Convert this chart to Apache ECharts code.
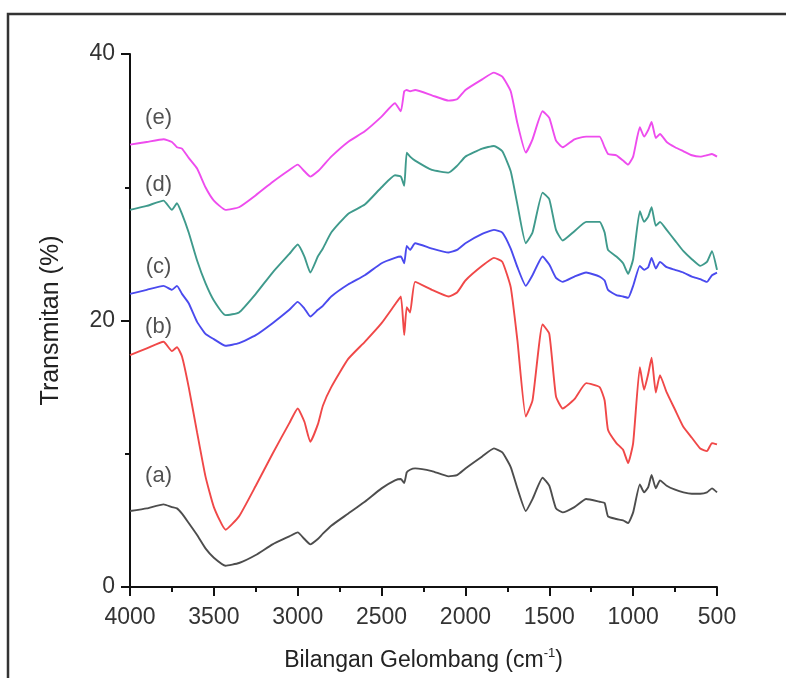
<!DOCTYPE html>
<html>
<head>
<meta charset="utf-8">
<script src="https://cdn.jsdelivr.net/npm/echarts@6/dist/echarts.min.js"></script>
<style>
    html, body { margin: 0; padding: 0; background: #fff; }
    #chart { width: 786px; height: 678px; }
</style>
</head>
<body>
<div id="chart"></div>
<script>
// wavenumber grid (cm-1), shared by all five spectra
var wavenumber = [4000, 3900, 3800, 3750, 3720, 3690, 3650, 3600, 3550, 3500, 3430, 3350, 3250, 3150, 3050,
    3000, 2960, 2925, 2880, 2850, 2800, 2700, 2600, 2500, 2420, 2385, 2365, 2350, 2330, 2300, 2200, 2100,
    2050, 2000, 1900, 1830, 1780, 1730, 1690, 1640, 1600, 1540, 1500, 1460, 1420, 1350, 1280, 1200, 1170,
    1150, 1100, 1060, 1030, 1000, 960, 935, 910, 890, 865, 840, 800, 750, 700, 650, 600, 560, 530, 500];

var sampleA = [5.7, 5.9, 6.2, 6.0, 5.9, 5.5, 4.8, 3.9, 2.9, 2.2, 1.6, 1.8, 2.4, 3.2, 3.8,
    4.1, 3.6, 3.2, 3.6, 4.0, 4.6, 5.5, 6.4, 7.4, 8.0, 8.1, 7.8, 8.6, 8.8, 8.9, 8.7, 8.3,
    8.4, 8.9, 9.8, 10.4, 10.1, 9.0, 7.4, 5.7, 6.6, 8.2, 7.6, 5.9, 5.6, 6.0, 6.6, 6.4, 6.3,
    5.3, 5.1, 5.0, 4.8, 5.6, 7.7, 7.1, 7.5, 8.4, 7.4, 8.0, 7.6, 7.3, 7.1, 7.0, 7.0, 7.1, 7.4, 7.1];

var sampleB = [17.4, 17.9, 18.4, 17.7, 18.0, 17.3, 15.0, 11.6, 8.3, 6.0, 4.3, 5.3, 7.6, 10.0, 12.3,
    13.4, 12.4, 10.9, 12.2, 13.6, 15.0, 17.1, 18.4, 19.8, 21.2, 21.8, 18.9, 21.0, 20.6, 22.9, 22.3, 21.8,
    22.1, 23.0, 24.1, 24.7, 24.4, 22.5, 18.5, 12.8, 14.0, 19.7, 19.0, 14.3, 13.4, 14.1, 15.3, 15.0, 14.0,
    11.8, 10.8, 10.3, 9.3, 10.8, 16.5, 14.8, 16.0, 17.2, 14.6, 15.9, 14.6, 13.3, 12.0, 11.2, 10.4, 10.2, 10.8, 10.7];

var sampleC = [22.0, 22.3, 22.6, 22.3, 22.6, 22.0, 21.3, 19.9, 19.0, 18.6, 18.1, 18.3, 18.9, 19.8, 20.8,
    21.4, 20.9, 20.3, 20.8, 21.1, 21.8, 22.7, 23.4, 24.3, 24.7, 24.8, 24.3, 25.6, 25.3, 25.8, 25.4, 25.1,
    25.3, 25.8, 26.5, 26.8, 26.6, 25.4, 24.0, 22.6, 23.4, 24.8, 24.2, 23.2, 22.9, 23.3, 23.6, 23.3, 23.0,
    22.3, 21.9, 21.8, 21.7, 22.6, 24.1, 23.8, 24.0, 24.7, 23.9, 24.4, 24.0, 23.8, 23.6, 23.3, 23.1, 22.9, 23.4, 23.6];

var sampleD = [28.3, 28.6, 29.0, 28.3, 28.8, 28.0, 26.6, 24.5, 22.8, 21.5, 20.4, 20.6, 22.0, 23.6, 25.0,
    25.7, 24.8, 23.6, 24.8, 25.4, 26.6, 28.0, 28.7, 30.0, 30.9, 30.8, 30.1, 32.6, 32.3, 32.0, 31.3, 31.1,
    31.6, 32.3, 32.9, 33.1, 32.7, 31.2, 28.7, 25.8, 26.6, 29.6, 29.1, 26.8, 26.0, 26.7, 27.4, 27.4, 26.6,
    25.3, 24.8, 24.3, 23.5, 24.6, 28.2, 27.4, 27.8, 28.5, 27.1, 27.4, 26.8, 26.0, 25.2, 24.6, 24.1, 24.4, 25.2, 23.8];

var sampleE = [33.2, 33.4, 33.6, 33.4, 33.0, 32.9, 32.2, 31.4, 30.0, 29.0, 28.3, 28.5, 29.4, 30.4, 31.3,
    31.7, 31.2, 30.8, 31.2, 31.6, 32.3, 33.4, 34.2, 35.3, 36.3, 35.7, 37.2, 37.3, 37.2, 37.3, 36.9, 36.5,
    36.6, 37.3, 38.1, 38.6, 38.3, 37.2, 34.8, 32.6, 33.6, 35.7, 35.2, 33.5, 33.0, 33.6, 33.8, 33.8, 33.0,
    32.5, 32.4, 32.0, 31.7, 32.3, 34.5, 33.8, 34.3, 34.9, 33.7, 34.0, 33.4, 33.0, 32.7, 32.4, 32.3, 32.4, 32.5, 32.3];

var sampleNames = ['(a)', '(b)', '(c)', '(d)', '(e)'];
var sampleColors = ['#4d4d4d', '#f04848', '#4a4aee', '#3f9a8c', '#ee4cee'];
var labelWave = 3830;
var labelLevel = [8.3, 19.5, 24.0, 30.2, 35.2];

function pairs(values) {
    return wavenumber.map(function (w, i) { return [w, values[i]]; });
}

var spectra = [sampleA, sampleB, sampleC, sampleD, sampleE];
var series = spectra.map(function (s, i) {
    return {
        name: sampleNames[i],
        type: 'line',
        data: pairs(s),
        showSymbol: false,
        smooth: 0.15,
        lineStyle: { color: sampleColors[i], width: 1.9 },
        itemStyle: { color: sampleColors[i] }
    };
});

series.push({
    type: 'scatter',
    data: labelLevel.map(function (v) { return [labelWave, v]; }),
    symbolSize: 1,
    itemStyle: { color: 'rgba(0,0,0,0)' },
    label: {
        show: true,
        position: 'inside',
        formatter: function (p) { return sampleNames[p.dataIndex]; },
        fontFamily: 'Liberation Sans, Arial',
        fontSize: 22,
        color: '#262626'
    }
});

var axisColor = '#111';
var tickFont = {
    fontFamily: 'Liberation Sans, Arial',
    fontSize: 23,
    color: '#333',
    formatter: function (v) { return String(v); }
};

var chart = echarts.init(document.getElementById('chart'));
chart.setOption({
    animation: false,
    backgroundColor: '#fff',
    grid: { left: 130, right: 69, top: 54, bottom: 91 },
    graphic: [{
        type: 'polyline',
        silent: true,
        shape: { points: [[8, 700], [8, 14], [800, 14]] },
        style: { fill: null, stroke: '#333', lineWidth: 2.5 }
    }],
    xAxis: {
        type: 'value',
        min: 500,
        max: 4000,
        interval: 500,
        inverse: true,
        splitLine: { show: false },
        axisLine: { lineStyle: { color: axisColor, width: 2 } },
        axisTick: { length: 9, lineStyle: { color: axisColor, width: 2 } },
        minorTick: { show: true, splitNumber: 2, length: 5, lineStyle: { color: axisColor, width: 2 } },
        axisLabel: Object.assign({ margin: 19 }, tickFont),
        name: '{t|Bilangan Gelombang (cm}{s|-1}{t|)}',
        nameLocation: 'middle',
        nameGap: 60,
        nameTextStyle: {
            rich: {
                t: { fontFamily: 'Liberation Sans, Arial', fontSize: 23, color: '#222' },
                s: { fontFamily: 'Liberation Sans, Arial', fontSize: 13, color: '#222', verticalAlign: 'top', padding: [0, 0, 14, 0] }
            }
        }
    },
    yAxis: {
        type: 'value',
        min: 0,
        max: 40,
        interval: 20,
        splitLine: { show: false },
        axisLine: { lineStyle: { color: axisColor, width: 2 } },
        axisTick: { length: 9, lineStyle: { color: axisColor, width: 2 } },
        minorTick: { show: true, splitNumber: 2, length: 5, lineStyle: { color: axisColor, width: 2 } },
        axisLabel: Object.assign({ margin: 15 }, tickFont),
        name: 'Transmitan (%)',
        nameLocation: 'middle',
        nameGap: 66,
        nameTextStyle: { fontFamily: 'Liberation Sans, Arial', fontSize: 25, color: '#222' }
    },
    series: series
});
</script>
</body>
</html>
